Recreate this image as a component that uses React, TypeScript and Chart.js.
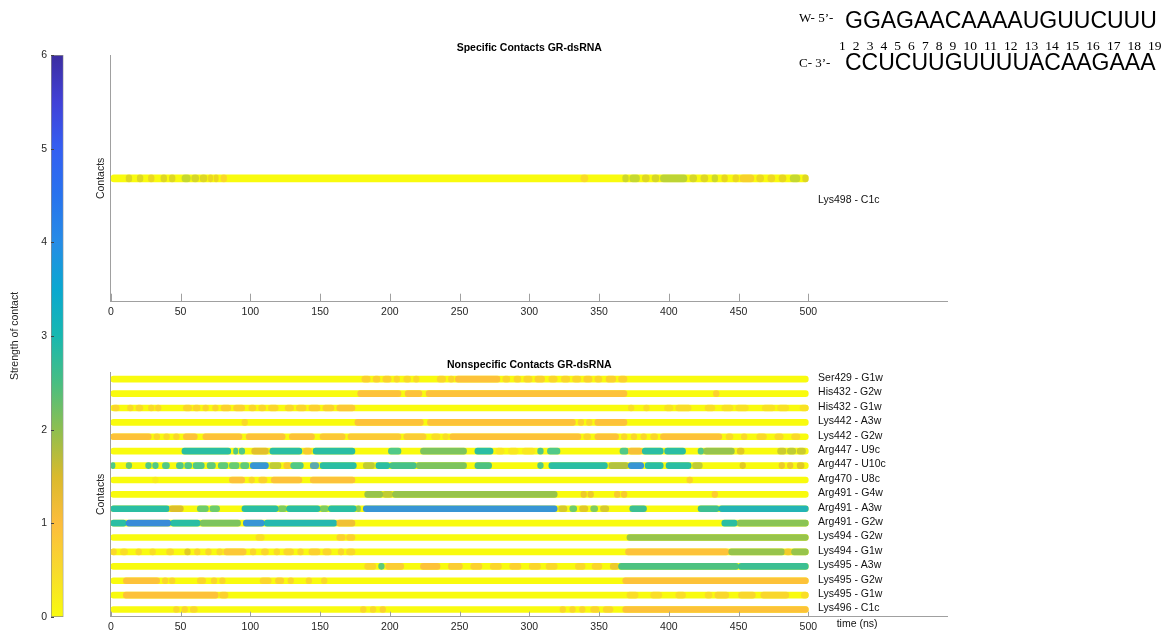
import React, { useEffect, useRef } from 'react';
import { Chart, registerables } from 'chart.js';

Chart.register(...registerables);

const FONT = '"Liberation Sans", Arial, Helvetica, sans-serif';
Chart.defaults.font.family = FONT;
Chart.defaults.font.size = 10.5;
Chart.defaults.color = '#262626';

// A contact segment: [start ns, end ns, strength of contact]
type Seg = [number, number, number];

// ---- Specific contacts ----
const specificLabels = ['Lys498 - C1c'];
const lys498C1c: Seg[] = [
  [0, 500, 0], [11, 15, 1.6], [19, 23, 1.6], [27, 31, 1.4], [36, 40, 1.6], [42, 46, 1.6],
  [51, 57, 1.9], [58, 63, 1.7], [64, 69, 1.6], [70, 73, 1.4], [74, 77, 1.4], [79, 83, 1],
  [337, 342, 0.9], [367, 371, 1.8], [372, 379, 1.9], [381, 386, 1.6], [388, 393, 1.7],
  [394, 413, 1.9], [415, 420, 1.7], [423, 428, 1.6], [431, 435, 1.8], [438, 442, 1.5],
  [446, 450, 1.4], [451, 461, 1.1], [463, 468, 1.4], [471, 476, 1.3], [479, 484, 1.5],
  [487, 494, 1.9], [496, 500, 1.6],
];
const specificRows = [lys498C1c];

// ---- Nonspecific contacts ----
const nonspecificLabels = [
  'Ser429 - G1w', 'His432 - G2w', 'His432 - G1w', 'Lys442 - A3w', 'Lys442 - G2w',
  'Arg447 - U9c', 'Arg447 - U10c', 'Arg470 - U8c', 'Arg491 - G4w', 'Arg491 - A3w',
  'Arg491 - G2w', 'Lys494 - G2w', 'Lys494 - G1w', 'Lys495 - A3w', 'Lys495 - G2w',
  'Lys495 - G1w', 'Lys496 - C1c',
];

const ser429G1w: Seg[] = [
  [0, 500, 0], [180, 186, 0.9], [188, 193, 0.9], [195, 201, 0.9], [203, 207, 0.8],
  [210, 215, 0.7], [217, 221, 0.7], [234, 240, 0.8], [242, 246, 0.8], [247, 279, 1],
  [281, 286, 0.8], [289, 294, 0.8], [296, 302, 0.8], [304, 311, 0.9], [314, 320, 0.8],
  [323, 329, 0.8], [331, 337, 0.8], [339, 345, 0.9], [347, 352, 0.8], [355, 362, 0.9],
  [364, 370, 0.9],
];
const his432G2w: Seg[] = [[0, 500, 0], [177, 208, 1], [211, 223, 1], [226, 370, 1], [432, 436, 0.9]];
const his432G1w: Seg[] = [
  [0, 500, 0], [1, 6, 0.8], [12, 16, 0.7], [18, 23, 0.7], [27, 31, 0.7], [32, 36, 0.8],
  [52, 58, 0.8], [59, 64, 0.8], [66, 70, 0.8], [73, 77, 0.8], [79, 86, 0.9], [88, 96, 0.9],
  [99, 104, 0.8], [106, 111, 0.8], [113, 120, 0.8], [125, 131, 0.8], [133, 140, 0.8],
  [142, 150, 0.9], [152, 160, 0.9], [162, 175, 0.9], [371, 375, 0.6], [382, 386, 0.6],
  [397, 403, 0.5], [405, 416, 0.5], [426, 433, 0.6], [438, 446, 0.5], [448, 457, 0.5],
  [467, 476, 0.5], [478, 486, 0.5], [494, 500, 0.5],
];
const lys442A3w: Seg[] = [
  [0, 500, 0], [94, 98, 0.7], [175, 224, 1], [227, 333, 1], [335, 339, 0.9], [341, 345, 0.8], [347, 370, 1],
];
const lys442G2w: Seg[] = [
  [0, 500, 0], [0, 29, 1], [31, 35, 0.8], [38, 42, 0.7], [45, 49, 0.8], [52, 62, 1],
  [66, 94, 1], [97, 125, 1], [128, 146, 1], [150, 168, 0.9], [170, 208, 0.85], [210, 226, 0.8],
  [230, 236, 0.6], [238, 242, 0.6], [243, 337, 1], [339, 344, 0.8], [347, 364, 1],
  [366, 370, 0.8], [373, 377, 0.8], [380, 384, 0.8], [387, 392, 0.8], [394, 438, 1],
  [441, 446, 0.7], [452, 456, 0.7], [463, 470, 0.7], [476, 482, 0.7], [488, 494, 0.7],
];
const arg447U9c: Seg[] = [
  [0, 500, 0], [51, 86, 3], [88, 91, 3], [92, 96, 3], [101, 113, 1.4], [114, 137, 3],
  [138, 144, 1.1], [145, 175, 3], [199, 208, 3], [222, 255, 2.2], [261, 274, 3],
  [276, 282, 0.4], [285, 292, 0.4], [295, 304, 0.4], [306, 310, 3], [313, 322, 3],
  [365, 371, 3], [371, 381, 1.1], [381, 396, 3], [397, 412, 3], [421, 425, 3], [425, 447, 2],
  [449, 454, 1.5], [478, 484, 1.7], [485, 491, 1.8], [492, 498, 1.7],
];
const arg447U10c: Seg[] = [
  [0, 500, 0], [0, 3, 3], [11, 15, 2.6], [25, 29, 3], [30, 34, 3], [37, 42, 3], [47, 52, 3],
  [53, 58, 3], [59, 67, 3], [69, 75, 2.8], [77, 84, 2.8], [85, 92, 2.7], [93, 99, 2.8],
  [100, 113, 4], [114, 122, 1.8], [124, 129, 1.1], [129, 138, 3], [143, 149, 4], [150, 176, 3],
  [181, 189, 1.8], [190, 200, 3], [200, 219, 2.7], [219, 255, 2.2], [261, 273, 2.6],
  [306, 310, 3], [314, 356, 3], [357, 371, 1.8], [371, 382, 4], [383, 396, 3], [398, 416, 3],
  [417, 424, 1.8], [451, 455, 1.5], [479, 483, 1.3], [485, 489, 1.3], [492, 497, 1.5],
];
const arg470U8c: Seg[] = [
  [0, 500, 0], [30, 34, 0.3], [85, 96, 1], [99, 103, 0.8], [106, 112, 0.9], [115, 137, 1],
  [143, 175, 1], [413, 417, 0.9],
];
const arg491G4w: Seg[] = [
  [0, 500, 0], [182, 195, 2], [195, 202, 1.8], [202, 320, 2], [337, 341, 1.3], [342, 346, 1.3],
  [361, 365, 1.1], [366, 370, 1.1], [431, 435, 1],
];
const arg491A3w: Seg[] = [
  [0, 500, 0], [0, 42, 3], [42, 52, 1.5], [62, 70, 2.6], [71, 78, 2.6], [94, 120, 3],
  [120, 126, 2.4], [126, 150, 3], [150, 156, 2.4], [156, 176, 3], [176, 179, 2.2], [181, 320, 4],
  [321, 327, 1.6], [329, 334, 2.6], [336, 342, 1.5], [344, 349, 2.4], [351, 357, 1.6],
  [372, 384, 2.8], [421, 436, 2.8], [436, 500, 3.3],
];
const arg491G2w: Seg[] = [
  [0, 500, 0], [0, 11, 3], [11, 43, 4.2], [43, 64, 3], [64, 93, 2.2], [95, 110, 4],
  [110, 162, 3.2], [162, 175, 1.2], [438, 449, 3], [449, 500, 2.1],
];
const lys494G2w: Seg[] = [[0, 500, 0], [104, 110, 0.6], [162, 168, 0.9], [169, 175, 0.9], [370, 500, 2]];
const lys494G1w: Seg[] = [
  [0, 500, 0], [0, 4, 0.7], [7, 12, 0.6], [18, 22, 0.7], [28, 32, 0.6], [40, 45, 0.7],
  [53, 57, 1.5], [60, 64, 0.8], [68, 72, 0.8], [76, 80, 0.7], [81, 97, 0.9], [100, 104, 0.8],
  [108, 113, 0.8], [117, 121, 0.7], [124, 131, 0.8], [134, 138, 0.8], [142, 150, 0.9],
  [152, 158, 0.8], [163, 167, 0.8], [169, 175, 0.7], [369, 443, 1], [443, 483, 2],
  [483, 488, 1.2], [488, 500, 2],
];
const lys495A3w: Seg[] = [
  [0, 500, 0], [182, 190, 0.8], [192, 196, 2.8], [197, 210, 0.8], [222, 236, 1], [242, 252, 0.8],
  [258, 266, 0.9], [272, 280, 0.8], [286, 294, 0.9], [300, 308, 0.8], [312, 320, 0.7],
  [333, 340, 0.7], [345, 352, 0.8], [358, 364, 1.3], [364, 450, 2.6], [450, 500, 2.8],
];
const lys495G2w: Seg[] = [
  [0, 500, 0], [9, 35, 1], [37, 41, 0.8], [42, 46, 0.8], [62, 68, 0.8], [72, 76, 0.8],
  [78, 82, 0.8], [107, 115, 0.8], [118, 124, 0.9], [127, 131, 0.8], [140, 144, 0.8],
  [151, 155, 0.7], [367, 500, 1],
];
const lys495G1w: Seg[] = [
  [0, 500, 0], [9, 77, 1], [78, 84, 0.9], [370, 378, 0.6], [387, 395, 0.6], [405, 412, 0.6],
  [426, 431, 0.6], [433, 443, 0.6], [450, 462, 0.6], [466, 486, 0.6], [495, 500, 0.6],
];
const lys496C1c: Seg[] = [
  [0, 500, 0], [45, 49, 0.7], [51, 55, 0.8], [57, 62, 0.7], [179, 183, 0.8], [186, 190, 0.7],
  [193, 197, 0.9], [322, 326, 0.8], [329, 333, 0.8], [336, 340, 0.8], [344, 350, 0.8],
  [353, 360, 0.8], [367, 500, 1],
];
const nonspecificRows = [
  ser429G1w, his432G2w, his432G1w, lys442A3w, lys442G2w, arg447U9c, arg447U10c, arg470U8c,
  arg491G4w, arg491A3w, arg491G2w, lys494G2w, lys494G1w, lys495A3w, lys495G2w, lys495G1w,
  lys496C1c,
];

// ---- Axes ----
const timeMax = 600;
const timeTickStep = 50;
const timeTickLast = 500;
const strengthMin = 0;
const strengthMax = 6;

// ---- Colour scale (strength -> colour) ----
const colorStops = [0, 0.5, 1, 1.5, 2, 2.5, 3, 3.5, 4, 4.5, 5, 5.5, 6];
const colorStopRGB = [
  [249, 251, 14], [248, 218, 44], [253, 189, 61], [218, 186, 44], [142, 191, 80],
  [72, 190, 130], [24, 184, 176], [10, 168, 208], [38, 140, 230], [40, 115, 238],
  [52, 95, 242], [65, 65, 215], [60, 45, 160],
];

function colorFor(v: number, alpha = 1): string {
  const n = colorStops.length;
  if (v <= colorStops[0]) return rgba(colorStopRGB[0], alpha);
  if (v >= colorStops[n - 1]) return rgba(colorStopRGB[n - 1], alpha);
  let i = 0;
  while (v > colorStops[i + 1]) i++;
  const f = (v - colorStops[i]) / (colorStops[i + 1] - colorStops[i]);
  const a = colorStopRGB[i];
  const b = colorStopRGB[i + 1];
  return rgba([0, 1, 2].map((k) => a[k] + (b[k] - a[k]) * f), alpha);
}
function rgba(c: number[], a: number) {
  return `rgba(${Math.round(c[0])},${Math.round(c[1])},${Math.round(c[2])},${a})`;
}

const AXIS_GREY = '#a0a0a0';

// Draws inward x tick marks, contact names next to each strip and the time label.
const panelDeco = {
  id: 'panelDeco',
  afterDraw(chart: any, _args: any, opts: any) {
    const { ctx, chartArea } = chart;
    const x = chart.scales.x;
    const y = chart.scales.y;
    ctx.save();
    ctx.strokeStyle = AXIS_GREY;
    ctx.lineWidth = 1;
    x.ticks.forEach((t: any) => {
      const px = Math.round(x.getPixelForValue(t.value)) + 0.5;
      ctx.beginPath();
      ctx.moveTo(px, chartArea.bottom);
      ctx.lineTo(px, chartArea.bottom - opts.tickLen);
      ctx.stroke();
    });
    ctx.fillStyle = '#111';
    ctx.font = `10.5px ${FONT}`;
    ctx.textAlign = 'left';
    ctx.textBaseline = 'middle';
    const lx = x.getPixelForValue(opts.labelAt);
    y.getLabels().forEach((lab: string, i: number) => {
      ctx.fillText(lab, lx, y.getPixelForValue(i) + opts.labelDy);
    });
    if (opts.axisLabel) {
      ctx.textAlign = 'center';
      ctx.fillText(opts.axisLabel, x.getPixelForValue(opts.axisLabelAt), chartArea.bottom + 7.3);
    }
    ctx.restore();
  },
};

// Short inward tick marks on the colour bar.
const colorbarTicks = {
  id: 'colorbarTicks',
  afterDraw(chart: any) {
    const { ctx, chartArea } = chart;
    const y = chart.scales.y;
    ctx.save();
    ctx.strokeStyle = '#444';
    ctx.lineWidth = 1;
    y.ticks.forEach((t: any) => {
      const py = Math.round(y.getPixelForValue(t.value)) + 0.5;
      ctx.beginPath();
      ctx.moveTo(chartArea.left, py);
      ctx.lineTo(chartArea.left + 3, py);
      ctx.stroke();
    });
    ctx.restore();
  },
};

const PANEL_LEFT = 80;
const PANEL_W = 900;
const AREA_LEFT = 30.8;
const AREA_RIGHT = 867.8;

type PanelSpec = {
  title: string;
  labels: string[];
  rows: Seg[][];
  thickness: number;
  dotAlpha: number;
  runAlpha: number;
  height: number;
  areaTop: number;
  areaBottom: number;
  titleY: number;
  tickLen: number;
  labelDy: number;
  axisLabel?: string;
};

function stripConfig(p: PanelSpec): any {
  const data = p.rows.flatMap((segs, r) =>
    segs.map((s, k) => ({ x: [s[0], s[1]], y: p.labels[r], v: s[2], base: k === 0, len: s[1] - s[0] }))
  );
  const lineH = 10.5 * 1.2;
  const padTop = p.titleY - lineH / 2;
  const titleBottomPad = p.areaTop - padTop - lineH;
  const padLeft = 10.7;
  return {
    type: 'bar',
    data: {
      labels: p.labels,
      datasets: [
        {
          data,
          backgroundColor: (c: any) => {
            const r = c.raw;
            if (!r) return 'transparent';
            if (r.base) return colorFor(r.v, 1);
            return colorFor(r.v, r.len < 10 ? p.dotAlpha : p.runAlpha);
          },
          borderWidth: 0,
          borderSkipped: false,
          borderRadius: { topLeft: 20, topRight: 20, bottomLeft: 20, bottomRight: 20 },
          barThickness: p.thickness,
        },
      ],
    },
    plugins: [panelDeco],
    options: {
      indexAxis: 'y',
      responsive: false,
      animation: false,
      devicePixelRatio: 1,
      events: [],
      layout: {
        padding: { left: padLeft, right: PANEL_W - AREA_RIGHT, top: padTop, bottom: p.height - p.areaBottom - 16 },
      },
      plugins: {
        legend: { display: false },
        tooltip: { enabled: false },
        title: {
          display: true,
          text: p.title,
          fullSize: false,
          color: '#000',
          font: { size: 10.5, weight: 'bold' },
          padding: { top: 0, bottom: titleBottomPad },
        },
        panelDeco: {
          tickLen: p.tickLen,
          labelAt: 507,
          labelDy: p.labelDy,
          axisLabel: p.axisLabel,
          axisLabelAt: 535,
        },
      },
      scales: {
        x: {
          type: 'linear',
          min: 0,
          max: timeMax,
          afterBuildTicks: (s: any) => {
            s.ticks = s.ticks.filter((t: any) => t.value <= timeTickLast);
          },
          afterFit: (s: any) => {
            s.height = 16;
          },
          ticks: { stepSize: timeTickStep, padding: 4, maxRotation: 0, autoSkip: false },
          grid: { display: false, drawTicks: false },
          border: { color: AXIS_GREY },
        },
        y: {
          type: 'category',
          afterFit: (s: any) => {
            s.width = AREA_LEFT - padLeft;
          },
          ticks: { display: false },
          grid: { display: false, drawTicks: false },
          border: { color: AXIS_GREY },
          title: { display: true, text: 'Contacts', padding: { top: 4, bottom: 4 } },
        },
      },
    },
  };
}

function colorbarConfig(): any {
  return {
    type: 'bar',
    data: {
      labels: [''],
      datasets: [
        {
          data: [[strengthMin, strengthMax]],
          backgroundColor: (c: any) => {
            const chart = c.chart;
            if (!chart.chartArea) return 'transparent';
            const ys = chart.scales.y;
            const g = chart.ctx.createLinearGradient(
              0, ys.getPixelForValue(strengthMin), 0, ys.getPixelForValue(strengthMax)
            );
            colorStops.forEach((v, i) => g.addColorStop((v - strengthMin) / (strengthMax - strengthMin), rgba(colorStopRGB[i], 1)));
            return g;
          },
          borderColor: '#8c8c8c',
          borderWidth: 1,
          borderSkipped: false,
          barPercentage: 1,
          categoryPercentage: 1,
        },
      ],
    },
    plugins: [colorbarTicks],
    options: {
      responsive: false,
      animation: false,
      devicePixelRatio: 1,
      events: [],
      layout: { padding: { left: 4.7, right: 36.5, top: 55, bottom: 18 } },
      plugins: { legend: { display: false }, tooltip: { enabled: false } },
      scales: {
        x: { display: false },
        y: {
          min: strengthMin,
          max: strengthMax,
          afterFit: (s: any) => {
            s.width = 46.3;
          },
          ticks: { stepSize: 1, padding: 4 },
          grid: { display: false, drawTicks: false },
          border: { display: false },
          title: { display: true, text: 'Strength of contact', padding: { top: 4, bottom: 4 } },
        },
      },
    },
  };
}

function ChartCanvas(props: { left: number; top: number; width: number; height: number; build: () => any }) {
  const ref = useRef<HTMLCanvasElement>(null);
  useEffect(() => {
    const chart = new Chart(ref.current as HTMLCanvasElement, props.build());
    return () => chart.destroy();
  }, []);
  return (
    <canvas
      ref={ref}
      width={props.width}
      height={props.height}
      style={{ position: 'absolute', left: props.left, top: props.top, width: props.width, height: props.height }}
    />
  );
}

const sequenceTop = 'GGAGAACAAAAUGUUCUUU';
const sequenceBottom = 'CCUCUUGUUUUACAAGAAA';
const positions = Array.from({ length: 19 }, (_, i) => String(i + 1));

const serif = '"Liberation Serif", "Times New Roman", serif';
const sans = FONT;

function Duplex() {
  const base: React.CSSProperties = { position: 'absolute', whiteSpace: 'pre', lineHeight: 1, color: '#000' };
  return (
    <>
      <div style={{ ...base, left: 799, top: 11, fontFamily: serif, fontSize: 13 }}>W- 5’-</div>
      <div style={{ ...base, left: 845, top: 9, fontFamily: sans, fontSize: 23 }}>{sequenceTop}</div>
      <div style={{ ...base, left: 839, top: 38.5, fontFamily: serif, fontSize: 13.5, wordSpacing: 3.7 }}>
        {positions.join(' ')}
      </div>
      <div style={{ ...base, left: 799, top: 56, fontFamily: serif, fontSize: 13 }}>C- 3’-</div>
      <div style={{ ...base, left: 845, top: 50.5, fontFamily: sans, fontSize: 23 }}>{sequenceBottom}</div>
    </>
  );
}

export default function App() {
  return (
    <div
      style={{
        position: 'fixed',
        left: 0,
        top: 0,
        width: 1166,
        height: 635,
        background: '#fff',
        overflow: 'hidden',
      }}
    >
      <ChartCanvas left={0} top={0} width={100} height={635} build={colorbarConfig} />
      <ChartCanvas
        left={PANEL_LEFT}
        top={0}
        width={PANEL_W}
        height={330}
        build={() =>
          stripConfig({
            title: 'Specific Contacts GR-dsRNA',
            labels: specificLabels,
            rows: specificRows,
            thickness: 7,
            dotAlpha: 0.55,
            runAlpha: 0.65,
            height: 330,
            areaTop: 55,
            areaBottom: 301.7,
            titleY: 48.3,
            tickLen: 8,
            labelDy: 21.7,
          })
        }
      />
      <ChartCanvas
        left={PANEL_LEFT}
        top={330}
        width={PANEL_W}
        height={305}
        build={() =>
          stripConfig({
            title: 'Nonspecific Contacts GR-dsRNA',
            labels: nonspecificLabels,
            rows: nonspecificRows,
            thickness: 6,
            dotAlpha: 0.75,
            runAlpha: 0.92,
            height: 305,
            areaTop: 42,
            areaBottom: 286.7,
            titleY: 35,
            tickLen: 5,
            labelDy: -1,
            axisLabel: 'time (ns)',
          })
        }
      />
      <Duplex />
    </div>
  );
}
